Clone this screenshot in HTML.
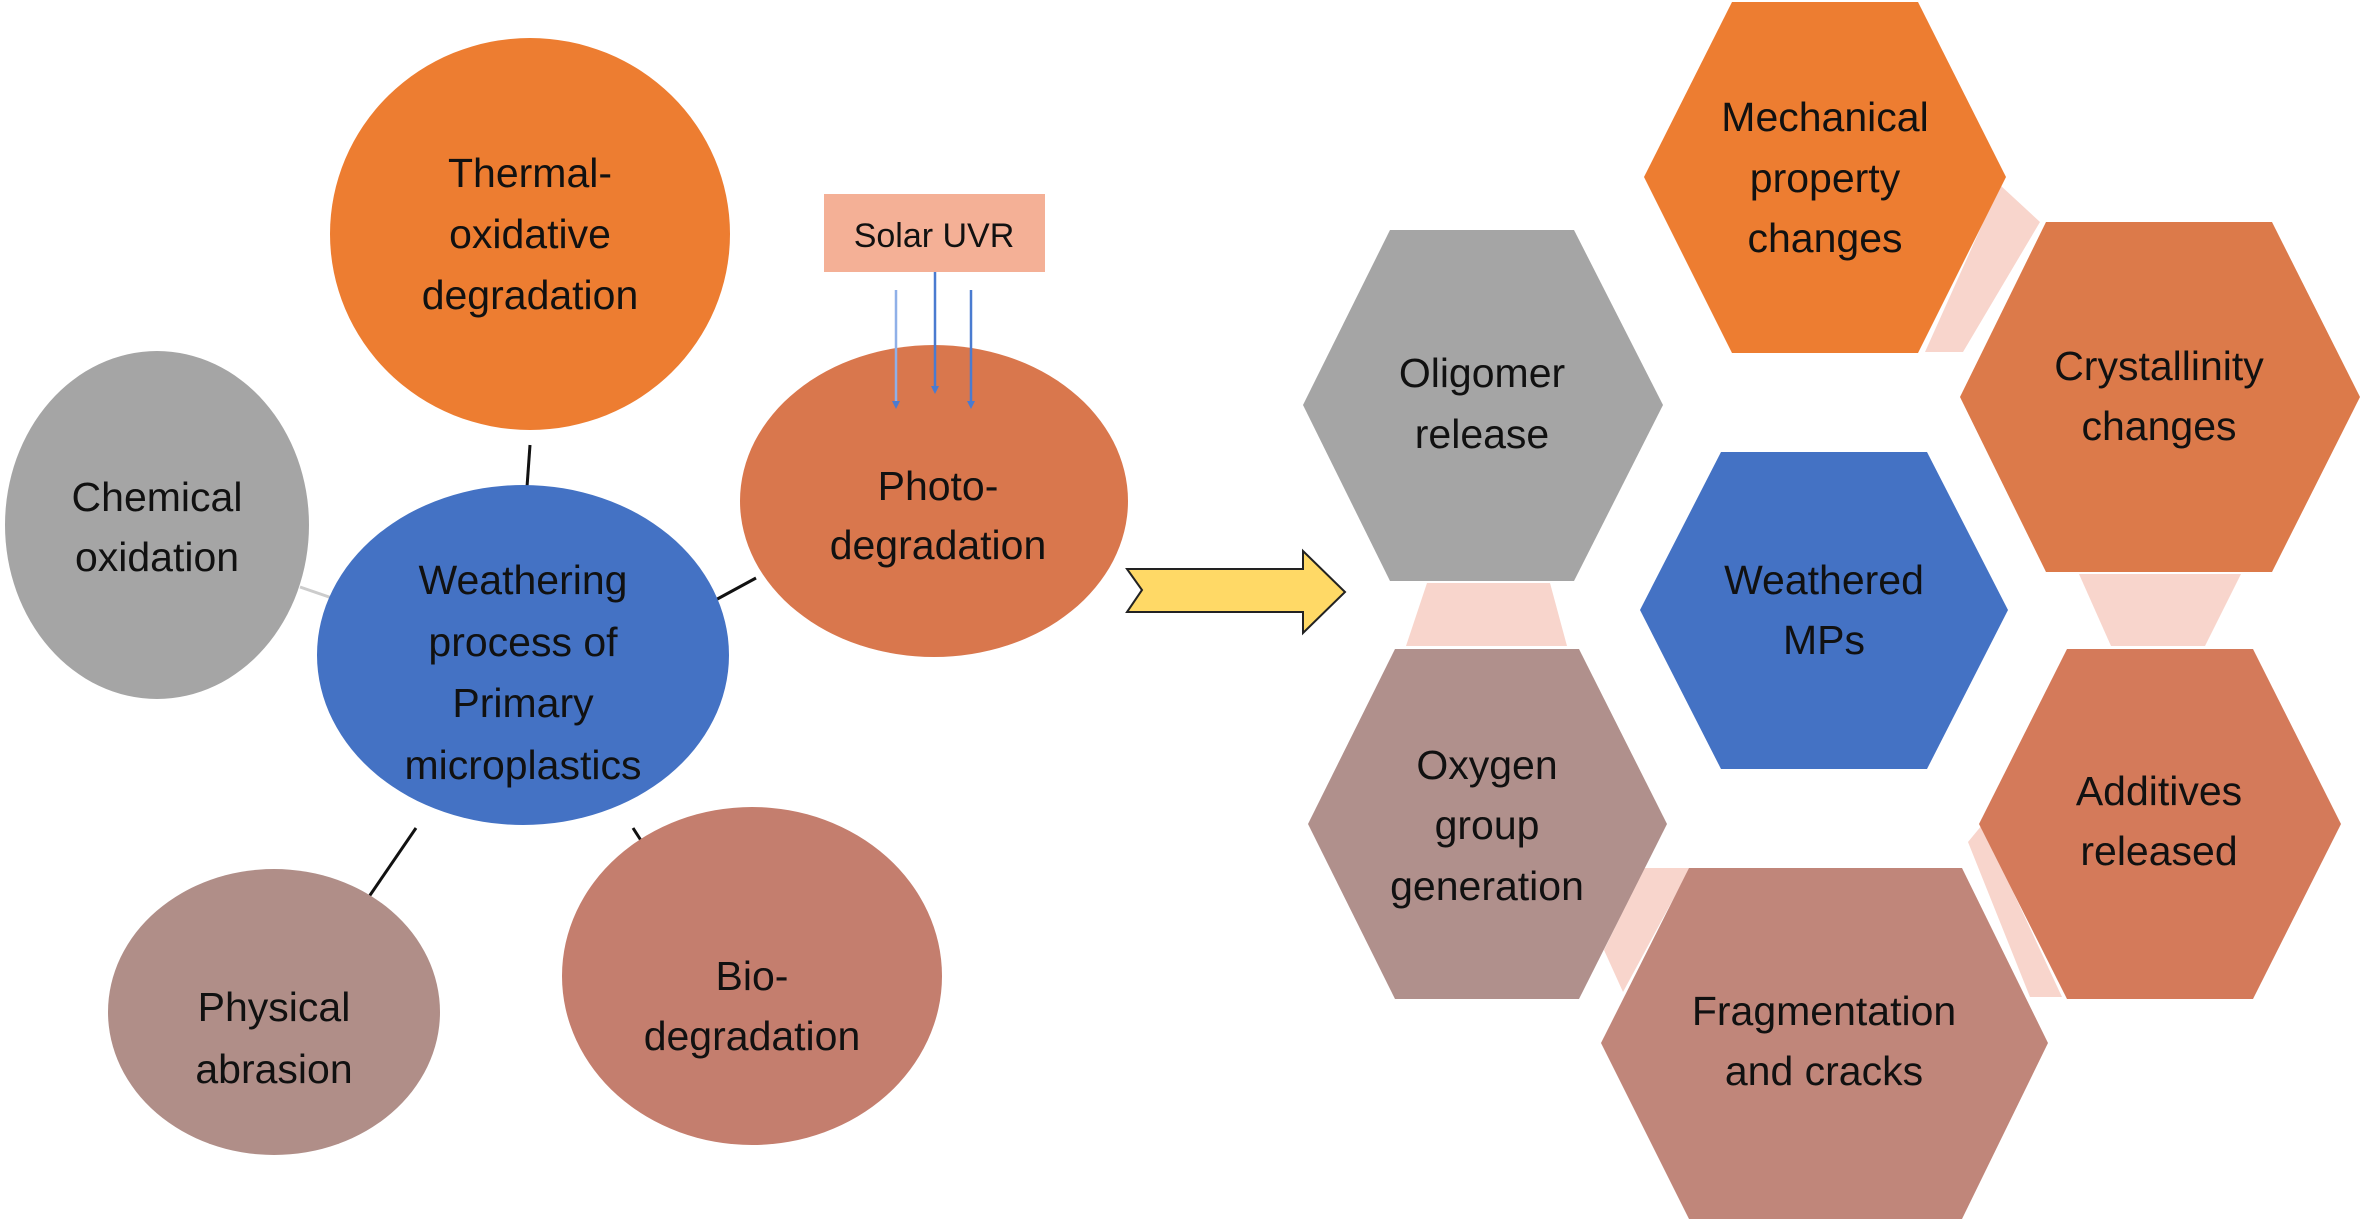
<!DOCTYPE html>
<html><head><meta charset="utf-8"><style>
html,body{margin:0;padding:0;background:#fff;}
svg{display:block;}
text{font-family:"Liberation Sans",sans-serif;font-size:41px;fill:#111;text-anchor:middle;dominant-baseline:central;}
</style></head><body>
<svg width="2362" height="1222" viewBox="0 0 2362 1222" xmlns="http://www.w3.org/2000/svg">
<defs>
<marker id="ah" markerWidth="8" markerHeight="8" refX="4" refY="4" orient="auto" markerUnits="userSpaceOnUse"><path d="M0,0 L8,4 L0,8 z" fill="#4a7bd0"/></marker>
</defs>
<g stroke="#111" stroke-width="3">
<line x1="530" y1="445" x2="527" y2="487"/>
<line x1="710" y1="603" x2="756" y2="578"/>
<line x1="364" y1="904" x2="416" y2="828"/>
<line x1="633" y1="828" x2="651" y2="856"/>
</g>
<line x1="300" y1="587" x2="332" y2="598" stroke="#ccc" stroke-width="3"/>
<ellipse cx="530" cy="234" rx="200" ry="196" fill="#ed7d31"/>
<ellipse cx="157" cy="525" rx="152" ry="174" fill="#a5a5a5"/>
<ellipse cx="934" cy="501" rx="194" ry="156" fill="#d9774d"/>
<ellipse cx="274" cy="1012" rx="166" ry="143" fill="#b08e88"/>
<ellipse cx="752" cy="976" rx="190" ry="169" fill="#c47e6e"/>
<ellipse cx="523" cy="655" rx="206" ry="170" fill="#4472c4"/>
<rect x="824" y="194" width="221" height="78" fill="#f4b096"/>
<text x="934" y="236" style="font-size:34px">Solar UVR</text>
<g stroke="#4a7bd0" stroke-width="2.5" marker-end="url(#ah)">
<line x1="896" y1="290" x2="896" y2="405" stroke="#8fb0e8"/>
<line x1="935" y1="272" x2="935" y2="390"/>
<line x1="971" y1="290" x2="971" y2="405"/>
</g>
<text x="530" y="173">Thermal-</text><text x="530" y="234">oxidative</text><text x="530" y="295">degradation</text>
<text x="157" y="497">Chemical</text><text x="157" y="557">oxidation</text>
<text x="523" y="580">Weathering</text><text x="523" y="642">process of</text><text x="523" y="703">Primary</text><text x="523" y="765">microplastics</text>
<text x="938" y="486">Photo-</text><text x="938" y="545">degradation</text>
<text x="274" y="1007">Physical</text><text x="274" y="1069">abrasion</text>
<text x="752" y="976">Bio-</text><text x="752" y="1036">degradation</text>
<path d="M1127,569 L1303,569 L1303,551 L1345,592 L1303,633 L1303,612 L1127,612 L1142,590 Z" fill="#ffd966" stroke="#222" stroke-width="2"/>
<g fill="#f8d5cc">
<polygon points="2000,185 2040,222 1963,352 1925,352"/>
<polygon points="1427,583 1550,583 1567,646 1406,646"/>
<polygon points="2079,574 2241,574 2205,646 2111,646"/>
<polygon points="1644,868 1690,868 1623,992 1604,950"/>
<polygon points="1968,842 1982,825 2062,997 2030,997"/>
</g>
<polygon points="1732,2 1918,2 2006,177 1918,353 1732,353 1644,177" fill="#ed7d31"/>
<polygon points="2046,222 2272,222 2360,397 2272,572 2046,572 1960,397" fill="#dc7a4a"/>
<polygon points="1390,230 1574,230 1663,405 1574,581 1390,581 1303,405" fill="#a5a5a5"/>
<polygon points="1721,452 1927,452 2008,610 1927,769 1721,769 1640,610" fill="#4472c4"/>
<polygon points="1395,649 1579,649 1667,824 1579,999 1395,999 1308,824" fill="#b0908c"/>
<polygon points="2067,649 2253,649 2341,824 2253,999 2067,999 1979,824" fill="#d47a5a"/>
<polygon points="1689,868 1962,868 2048,1043 1962,1219 1689,1219 1601,1043" fill="#c0867a"/>
<text x="1825" y="117">Mechanical</text><text x="1825" y="178">property</text><text x="1825" y="238">changes</text>
<text x="2159" y="366">Crystallinity</text><text x="2159" y="426">changes</text>
<text x="1482" y="373">Oligomer</text><text x="1482" y="434">release</text>
<text x="1824" y="580">Weathered</text><text x="1824" y="640">MPs</text>
<text x="1487" y="765">Oxygen</text><text x="1487" y="825">group</text><text x="1487" y="886">generation</text>
<text x="2159" y="791">Additives</text><text x="2159" y="851">released</text>
<text x="1824" y="1011">Fragmentation</text><text x="1824" y="1071">and cracks</text>
</svg>
</body></html>
